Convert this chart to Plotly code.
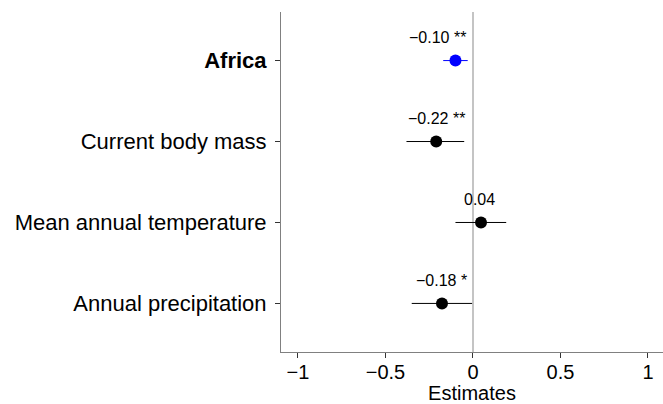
import plotly.graph_objects as go

terms = ["Africa", "Current body mass", "Mean annual temperature", "Annual precipitation"]
tick_text = ["<b>Africa</b>", "Current body mass", "Mean annual temperature", "Annual precipitation"]
estimates = [-0.10, -0.21, 0.046, -0.177]
ci_low = [-0.17, -0.38, -0.10, -0.35]
ci_high = [-0.03, -0.05, 0.19, -0.005]
labels = ["−0.10 **", "−0.22 **", "0.04", "−0.18 *"]
x_ticks = [-1, -0.5, 0, 0.5, 1]
x_tick_text = ["−1", "−0.5", "0", "0.5", "1"]

colors = ["#0000ff", "#000000", "#000000", "#000000"]
label_xshift = [-18, 0, -2, 0]

FONT = "Liberation Sans, Arial, Helvetica, sans-serif"

fig = go.Figure()
for i, t in enumerate(terms):
    fig.add_trace(go.Scatter(
        x=[estimates[i]], y=[t], mode="markers",
        marker=dict(size=12, color=colors[i]),
        error_x=dict(type="data", symmetric=False,
                     array=[ci_high[i] - estimates[i]],
                     arrayminus=[estimates[i] - ci_low[i]],
                     color=colors[i], thickness=1, width=0),
        showlegend=False, hoverinfo="skip"))
    fig.add_annotation(x=estimates[i], y=t, text=labels[i], showarrow=False,
                       yshift=23, xshift=label_xshift[i],
                       font=dict(family=FONT, size=16, color="#000"))

fig.update_layout(
    width=663, height=404,
    margin=dict(l=281, r=0, t=12, b=52),
    plot_bgcolor="white", paper_bgcolor="white",
    font=dict(family=FONT, color="#000"),
    xaxis=dict(range=[-1.097, 1.086], tickvals=x_ticks, ticktext=x_tick_text,
               showgrid=False, showline=True, linecolor="#808080", linewidth=1,
               ticks="outside", ticklen=5, tickcolor="#333", tickwidth=1,
               ticklabelstandoff=-3,
               tickfont=dict(size=20, color="#000"),
               zeroline=True, zerolinecolor="#c4c4c4", zerolinewidth=1.5,
               title=dict(text="Estimates", font=dict(size=20, color="#000"), standoff=0)),
    yaxis=dict(type="category", categoryarray=terms[::-1], range=[-0.6, 3.6],
               tickvals=terms, ticktext=tick_text,
               showgrid=False, showline=True, linecolor="#808080", linewidth=1,
               ticks="outside", ticklen=5, tickcolor="#333", tickwidth=1,
               ticklabelstandoff=4,
               tickfont=dict(size=22, color="#000"), zeroline=False),
)

fig.write_html("out.html")
